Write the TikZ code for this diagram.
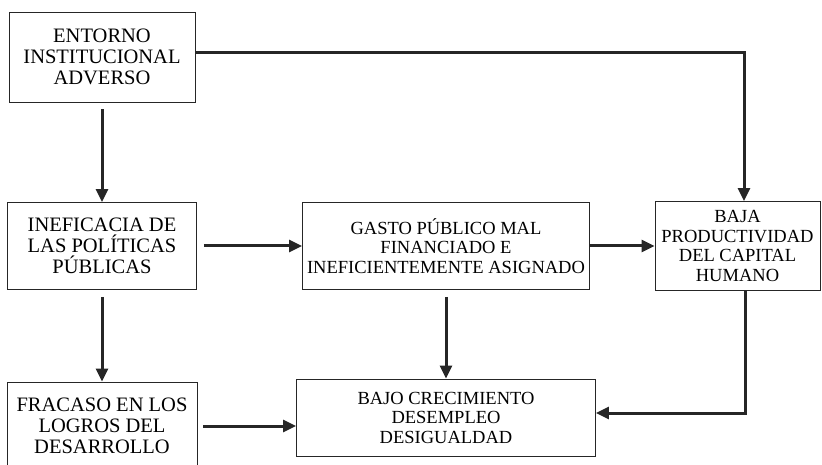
\documentclass[tikz,border=0pt]{standalone}
\usepackage{fontspec}
\setmainfont{Liberation Serif}
\usetikzlibrary{arrows.meta}

\begin{document}
\begin{tikzpicture}[x=1pt,y=-1pt]
        \tikzstyle{every node} = [rectangle, draw=black!85, line width=0.9pt, inner sep=0pt, align=center]
        \tikzstyle{big} = [font=\fontsize{20.5}{21}\selectfont]
        \tikzstyle{mid} = [font=\fontsize{18.5}{19.5}\selectfont]
        \tikzstyle{arr} = [draw=black!85, line width=3pt, -{Triangle[length=13pt,width=12pt]}]
        \useasboundingbox (0,0) rectangle (822,465);

        \node[big, minimum width=186pt, minimum height=90pt] (0) at (102,57) {ENTORNO\\INSTITUCIONAL\\ADVERSO};
        \node[big, minimum width=189pt, minimum height=87pt] (1) at (102,246) {INEFICACIA DE\\LAS POLÍTICAS\\PÚBLICAS};
        \node[mid, minimum width=287pt, minimum height=87pt] (2) at (446,246) {GASTO PÚBLICO MAL\\FINANCIADO E\\INEFICIENTEMENTE ASIGNADO};
        \node[mid, minimum width=165pt, minimum height=89pt] (3) at (737.5,246) {BAJA\\PRODUCTIVIDAD\\DEL CAPITAL\\HUMANO};
        \node[big, minimum width=190pt, minimum height=88pt] (4) at (102,426) {FRACASO EN LOS\\LOGROS DEL\\DESARROLLO};
        \node[mid, minimum width=299pt, minimum height=77pt] (5) at (446,417.5) {BAJO CRECIMIENTO\\DESEMPLEO\\DESIGUALDAD};

        \foreach \from/\to in {0/1, 1/2, 1/4, 2/5}
            \draw[arr, shorten <=7pt] (\from) -- (\to);
        \draw[arr] (2) -- (3);
        \draw[arr, shorten <=6pt] (4) -- (4 -| 5.west);
        \draw[arr] ([yshift=4pt]0.east) -| ([xshift=6.5pt]3.north);
        \draw[arr] ([xshift=7.5pt]3.south) |- ([yshift=4.5pt]5.east);
      \end{tikzpicture}
\end{document}
